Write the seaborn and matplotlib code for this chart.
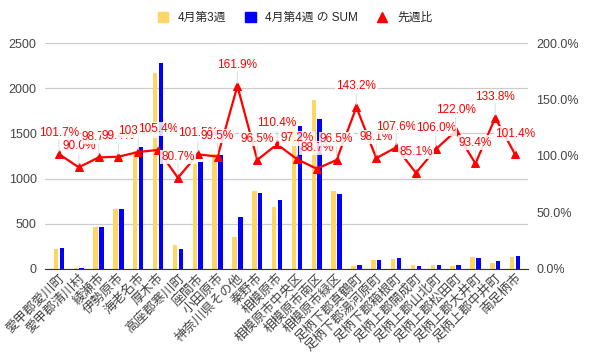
import numpy as np
import pandas as pd
import seaborn as sns
import matplotlib.pyplot as plt
from matplotlib.patches import Patch
from matplotlib.lines import Line2D

# data
cities = ['愛甲郡愛川町', '愛甲郡清川村', '綾瀬市', '伊勢原市', '海老名市', '厚木市',
          '高座郡寒川町', '座間市', '小田原市', '神奈川県その他', '秦野市', '相模原市',
          '相模原市中央区', '相模原市南区', '相模原市緑区', '足柄下郡真鶴町', '足柄下郡湯河原町',
          '足柄下郡箱根町', '足柄上郡開成町', '足柄上郡山北町', '足柄上郡松田町',
          '足柄上郡大井町', '足柄上郡中井町', '南足柄市']
week3 = [226, 10, 466, 665, 1300, 2165, 270, 1170, 1267, 353, 866, 689,
         1628, 1869, 860, 34, 102, 112, 40, 40, 35, 131, 66, 138]
week4 = [230, 9, 460, 661, 1346, 2282, 218, 1187, 1261, 571, 836, 760,
         1582, 1656, 830, 49, 100, 120, 34, 42, 43, 122, 88, 140]
ratio = [101.7, 90.0, 98.7, 99.4, 103.5, 105.4, 80.7, 101.5, 99.5, 161.9, 96.5, 110.4,
         97.2, 88.7, 96.5, 143.2, 98.1, 107.6, 85.1, 106.0, 122.0, 93.4, 133.8, 101.4]

sns.set_style('white')
plt.rcParams['font.family'] = ['Liberation Sans', 'Noto Sans CJK JP', 'DejaVu Sans']

yellow = '#ffd666'
blue = '#0000ff'
red = '#ff0000'

df = pd.DataFrame({'city': cities * 2,
                   'value': week3 + week4,
                   'series': ['4月第3週'] * len(cities) + ['4月第4週 の SUM'] * len(cities)})

fig = plt.figure(figsize=(5.9, 3.63), dpi=100)
ax = fig.add_axes([0.0763, 0.259, 0.8186, 0.6225])

sns.barplot(data=df, x='city', y='value', hue='series', order=cities,
            palette=[yellow, blue], width=0.6, gap=0.25, ax=ax, legend=False,
            saturation=1, linewidth=0)

ax.set_xlim(-0.7, 23.65)
ax.set_ylim(0, 2500)
ax.set_yticks([0, 500, 1000, 1500, 2000, 2500])
ax.grid(axis='y', color='#cccccc', lw=0.9)
ax.set_axisbelow(True)
ax.set_xlabel('')
ax.set_ylabel('')
for s in ['top', 'right', 'left']:
    ax.spines[s].set_visible(False)
ax.spines['bottom'].set_color('#333333')
ax.tick_params(axis='y', length=0, labelsize=9, labelcolor='#444444', pad=6)
ax.tick_params(axis='x', length=0, pad=2)
ax.set_xticks(range(len(cities)))
ax.set_xticklabels(cities, rotation=45, ha='right', rotation_mode='anchor',
                   fontsize=9.3, color='#444444')

ax2 = ax.twinx()
xs = np.arange(len(cities))
sns.lineplot(x=xs, y=ratio, ax=ax2, color=red, lw=1.6, marker='^', markersize=5.5,
             markeredgecolor=red, legend=False)
ax2.set_ylim(0, 200)
ax2.set_yticks([0, 50, 100, 150, 200])
ax2.set_yticklabels([f'{v:.1f}%' for v in [0, 50, 100, 150, 200]])
ax2.tick_params(axis='y', length=0, labelsize=9, labelcolor='#444444', pad=6)
for s in ['top', 'right', 'left', 'bottom']:
    ax2.spines[s].set_visible(False)
ax2.grid(False)

for x, r in zip(xs, ratio):
    ax2.annotate('', xy=(x, r), xytext=(0, 15), textcoords='offset points',
                 arrowprops=dict(arrowstyle='-', color='#e0e0e0', lw=0.8))
    ax2.annotate(f'{r:.1f}%', xy=(x, r), xytext=(0, 15), textcoords='offset points',
                 ha='center', va='center', fontsize=8.5, color=red,
                 bbox=dict(boxstyle='square,pad=0.1', fc='white', ec='none', alpha=0.85))

handles = [Patch(color=yellow), Patch(color=blue),
           Line2D([], [], color=red, marker='^', lw=0, markersize=7)]
fig.legend(handles, ['4月第3週', '4月第4週 の SUM', '先週比'], loc='center',
           bbox_to_anchor=(0.5, 0.95), ncol=3, frameon=False, fontsize=8.5,
           handlelength=0.9, handleheight=0.9, columnspacing=1.6, handletextpad=0.8)

plt.savefig('out.png', dpi=100)
